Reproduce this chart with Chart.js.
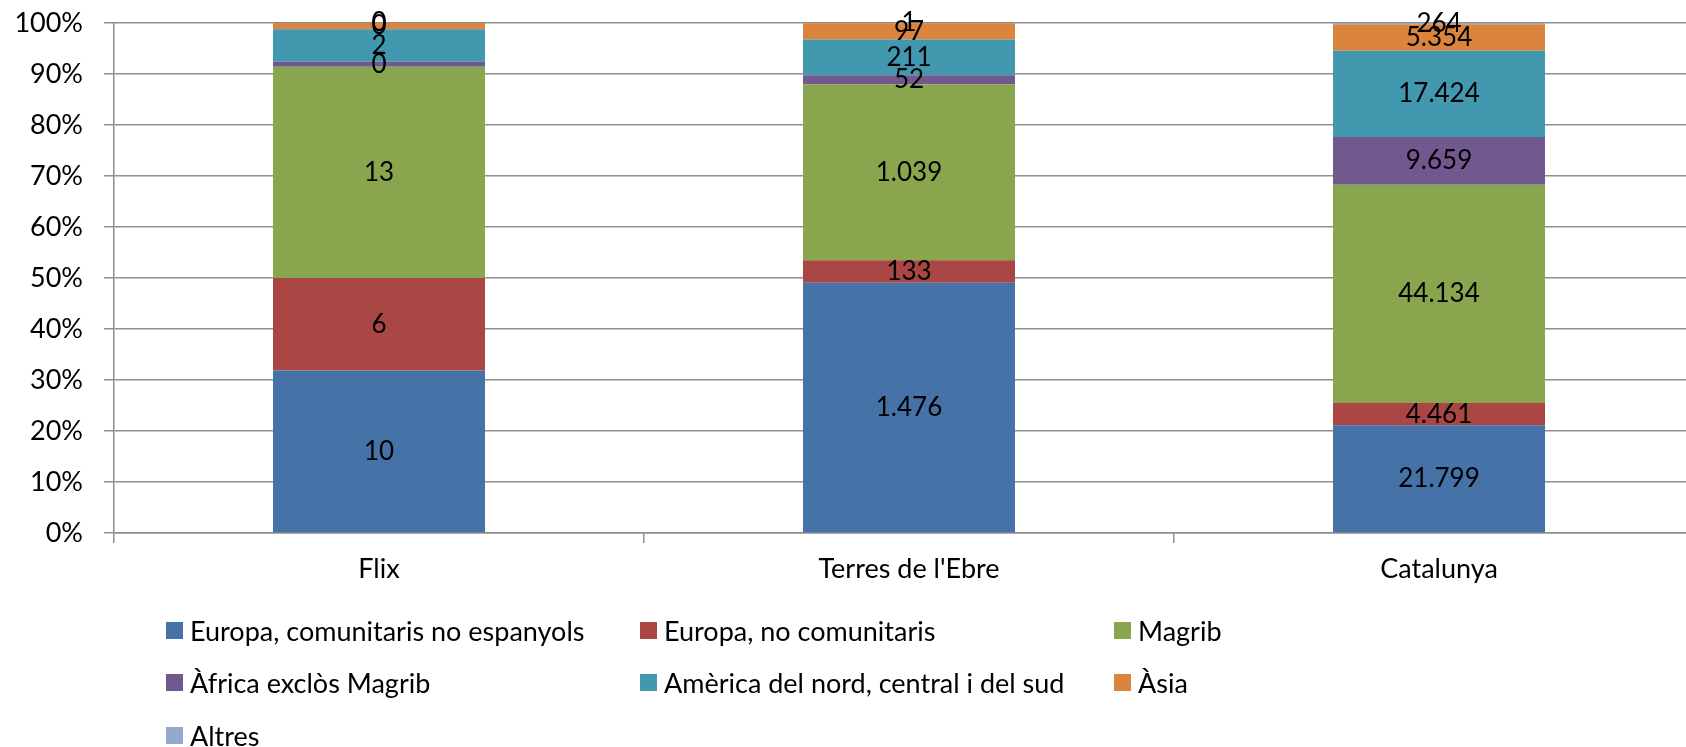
<!DOCTYPE html>
<html>
<head>
<meta charset="utf-8">
<script src="https://cdn.jsdelivr.net/npm/chart.js@4/dist/chart.umd.min.js"></script>
<style>
    html, body { margin: 0; padding: 0; background: #fff; width: 1686px; height: 747px; overflow: hidden; }
    #growthChart { position: absolute; left: 0; top: 0; }
    #legend { position: absolute; left: 0; top: 0; width: 1686px; height: 747px; pointer-events: none; }
    .legend-item { position: absolute; height: 40px; display: flex; align-items: center; font: 27px Lato, sans-serif; color: #000; white-space: nowrap; }
    .legend-box { width: 17px; height: 17px; margin-right: 7px; flex: none; }
</style>
</head>
<body>
<canvas id="growthChart" width="1720" height="747"></canvas>
<div id="legend"></div>
<script>
// categories and series (raw counts, shown as labels; bars are % of each total)
const categories = ['Flix', "Terres de l'Ebre", 'Catalunya'];
const seriesNames = [
    'Europa, comunitaris no espanyols',
    'Europa, no comunitaris',
    'Magrib',
    'Àfrica exclòs Magrib',
    'Amèrica del nord, central i del sud',
    'Àsia',
    'Altres'
];
const europaComunitaris = [10.0, 1476, 21799];
const europaNoComunitaris = [5.7, 133, 4461];
const magrib = [13.0, 1039, 44134];
const africa = [0.31, 52, 9659];
const america = [2.0, 211, 17424];
const asia = [0.38, 97, 5354];
const altres = [0, 1, 264];
const seriesColors = ['#4572A7', '#AA4643', '#89A54E', '#71588F', '#4198AF', '#DB843D', '#93A9CF'];
const yTicks = [0, 10, 20, 30, 40, 50, 60, 70, 80, 90, 100];

const allSeries = [europaComunitaris, europaNoComunitaris, magrib, africa, america, asia, altres];

// totals per category for the 100% stack
const totals = categories.map((c, j) => allSeries.reduce((sum, s) => sum + s[j], 0));

function formatNum(v) {
    return String(Math.round(v)).replace(/\B(?=(\d{3})+(?!\d))/g, '.');
}

const gridColor = '#8f8f8f';
const fontFamily = 'Lato, sans-serif';

// draws the raw value in the middle of each bar segment
const valueLabels = {
    id: 'valueLabels',
    afterDatasetsDraw(chart) {
        const ctx = chart.ctx;
        ctx.save();
        ctx.font = '26px ' + fontFamily;
        ctx.fillStyle = '#000';
        ctx.textAlign = 'center';
        ctx.textBaseline = 'middle';
        chart.data.datasets.forEach((ds, i) => {
            const meta = chart.getDatasetMeta(i);
            meta.data.forEach((bar, j) => {
                const y = (bar.y + bar.base) / 2;
                ctx.fillText(formatNum(ds.rawValues[j]), bar.x, y);
            });
        });
        ctx.restore();
    }
};

const chart = new Chart(document.getElementById('growthChart'), {
    type: 'bar',
    data: {
        labels: categories,
        datasets: allSeries.map((s, i) => ({
            label: seriesNames[i],
            data: s.map((v, j) => v / totals[j] * 100),
            rawValues: s,
            backgroundColor: seriesColors[i],
            borderWidth: 0,
            barPercentage: 0.4,
            categoryPercentage: 1.0
        }))
    },
    options: {
        responsive: false,
        animation: false,
        layout: { padding: { top: 23, right: 16, left: 0, bottom: 0 } },
        plugins: {
            legend: { display: false },
            tooltip: { enabled: false }
        },
        scales: {
            x: {
                stacked: true,
                offset: true,
                grid: { drawOnChartArea: false, offset: true, tickLength: 10, color: gridColor, lineWidth: 1.5 },
                border: { color: gridColor, width: 1.5 },
                ticks: { color: '#000', font: { family: fontFamily, size: 27 }, padding: 10 },
                afterFit(scale) {
                    scale.height = 747 - 533;
                    scale.paddingLeft = 0;
                    scale.paddingRight = 0;
                }
            },
            y: {
                stacked: true,
                min: 0,
                max: 100,
                afterBuildTicks(scale) { scale.ticks = yTicks.map(v => ({ value: v })); },
                grid: { tickLength: 10, color: gridColor, lineWidth: 1.5 },
                border: { color: gridColor, width: 1.5 },
                ticks: {
                    color: '#000',
                    font: { family: fontFamily, size: 27 },
                    padding: 21,
                    callback: v => v + '%'
                },
                afterFit(scale) {
                    scale.width = 114;
                    scale.paddingTop = 0;
                    scale.paddingBottom = 0;
                }
            }
        }
    },
    plugins: [valueLabels]
});

// legend in three columns under the chart
const legendCols = [166, 640, 1114];
const legendRows = [630, 682, 735];
const legendEl = document.getElementById('legend');
chart.data.datasets.forEach((ds, i) => {
    const item = document.createElement('div');
    item.className = 'legend-item';
    item.style.left = legendCols[i % 3] + 'px';
    item.style.top = (legendRows[Math.floor(i / 3)] - 20) + 'px';
    const box = document.createElement('span');
    box.className = 'legend-box';
    box.style.background = ds.backgroundColor;
    const text = document.createElement('span');
    text.textContent = ds.label;
    item.appendChild(box);
    item.appendChild(text);
    legendEl.appendChild(item);
});
</script>
</body>
</html>
